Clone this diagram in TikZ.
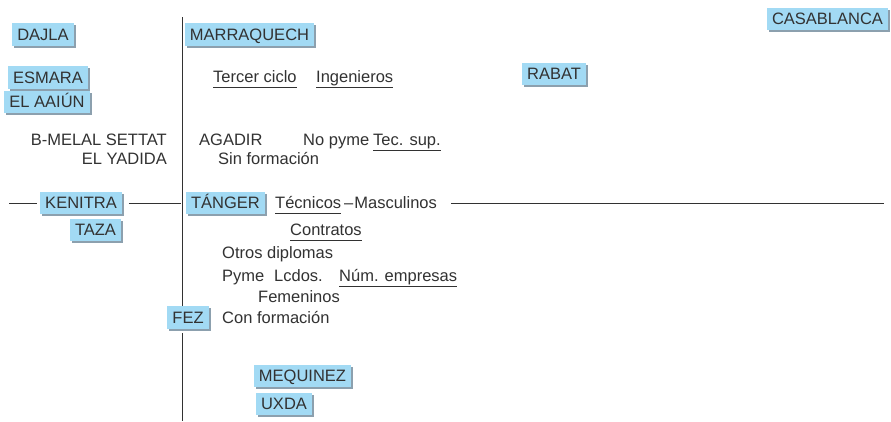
\documentclass[tikz,border=0pt]{standalone}
\usepackage{fontspec}
\setmainfont{Liberation Sans}
\usetikzlibrary{shadows}

\definecolor{cajaazul}{RGB}{162,218,244}
\definecolor{sombra}{RGB}{140,160,174}
\definecolor{texto}{RGB}{50,50,50}

\tikzset{
  ciudad/.style={fill=cajaazul, text=texto, inner xsep=5pt, inner ysep=5.3pt,
    text height=11.8pt, text depth=0pt, font=\fontsize{16.5}{19}\selectfont,
    drop shadow={shadow xshift=2pt, shadow yshift=-2pt, fill=sombra, opacity=1}},
  rotulo/.style={text=texto, inner sep=0pt, text height=11.8pt, text depth=0pt,
    font=\fontsize{16.5}{19}\selectfont},
  eje/.style={draw=texto, line width=0.9pt},
  subrayado/.style={draw=texto, line width=0.9pt}
}

\begin{document}
\begin{tikzpicture}[x=1pt,y=-1pt]
		\useasboundingbox[fill=white] (0,0) rectangle (891,421);

		\coordinate (vsup) at (182,17);
		\coordinate (vinf) at (182,421);
		\coordinate (hizq) at (9,203);
		\coordinate (hder) at (884,203);

		\node[ciudad] (dajla) at (43,34.5) {DAJLA};
		\node[ciudad] (marraquech) at (249.5,34.5) {MARRAQUECH};
		\node[ciudad] (casablanca) at (827.5,19) {CASABLANCA};
		\node[ciudad] (esmara) at (48,77.5) {ESMARA};
		\node[ciudad] (elaaiun) at (47,102) {EL AAIÚN};
		\node[ciudad] (rabat) at (554,74) {RABAT};
		\node[ciudad] (kenitra) at (81,203) {KENITRA};
		\node[ciudad] (taza) at (95.5,230) {TAZA};
		\node[ciudad] (tanger) at (225.5,203) {TÁNGER};
		\node[ciudad] (fez) at (188,317.5) {FEZ};
		\node[ciudad] (mequinez) at (302.5,376) {MEQUINEZ};
		\node[ciudad] (uxda) at (284,404) {UXDA};

		\node[rotulo, anchor=west] (tercer) at (213,77) {Tercer ciclo};
		\node[rotulo, anchor=west] (ingenieros) at (316,77) {Ingenieros};
		\node[rotulo, anchor=east] (bmelal) at (167,140) {B-MELAL SETTAT};
		\node[rotulo, anchor=east] (elyadida) at (167,159) {EL YADIDA};
		\node[rotulo, anchor=west] (agadir) at (199,140) {AGADIR};
		\node[rotulo, anchor=west] (nopyme) at (303,140) {No pyme};
		\node[rotulo, anchor=west] (tecsup) at (373,140) {Tec. sup.};
		\node[rotulo, anchor=west] (sinform) at (218,159) {Sin formación};
		\node[rotulo, anchor=west] (tecnicos) at (275,203) {Técnicos};
		\node[rotulo, anchor=west] (masc) at (344,203) {–\hspace{1pt}Masculinos};
		\node[rotulo, anchor=west] (contratos) at (290,230) {Contratos};
		\node[rotulo, anchor=west] (otros) at (222,253) {Otros diplomas};
		\node[rotulo, anchor=west] (pyme) at (222,276) {Pyme};
		\node[rotulo, anchor=west] (lcdos) at (274,276) {Lcdos.};
		\node[rotulo, anchor=west] (numemp) at (339,276) {Núm. empresas};
		\node[rotulo, anchor=west] (femeninos) at (258,297) {Femeninos};
		\node[rotulo, anchor=west] (conform) at (222,318) {Con formación};

		\draw[eje] (vsup) -- (vsup |- fez.north);
		\draw[eje, shorten <=4.5pt] (vsup |- fez.south) -- (vinf);
		\draw[eje, shorten >=3pt] (hizq) -- (kenitra);
		\draw[eje, shorten <=7pt, shorten >=5pt] (kenitra) -- (tanger);
		\draw[eje, shorten <=14pt] (masc) -- (hder);

		\foreach \n in {tercer,ingenieros,tecsup,tecnicos,contratos,numemp}
			\draw[subrayado] ([yshift=-4.5pt]\n.south west) -- ([yshift=-4.5pt]\n.south east);

	\end{tikzpicture}
\end{document}
